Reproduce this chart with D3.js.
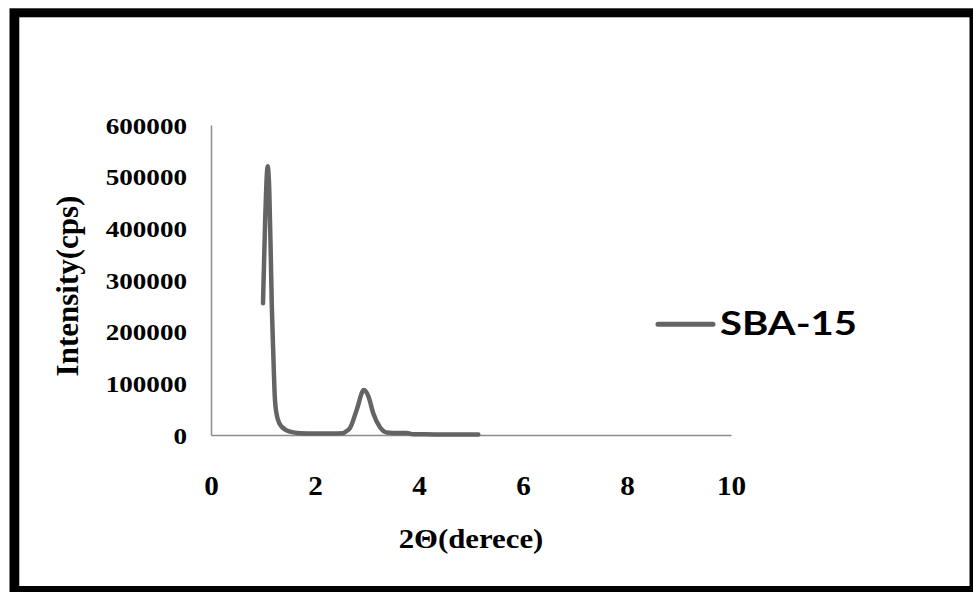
<!DOCTYPE html>
<html>
<head>
<meta charset="utf-8">
<script src="https://cdn.jsdelivr.net/npm/d3@7"></script>
<style>
  html, body { margin: 0; padding: 0; background: #fff; }
  svg { display: block; }
</style>
</head>
<body>
<svg id="chart" width="973" height="592"></svg>
<script>
// SBA-15 low-angle XRD pattern
const twoTheta  = [1.00, 1.04, 1.09, 1.12, 1.15, 1.17, 1.20, 1.23, 1.28, 1.36, 1.52, 1.71, 2.00, 2.30, 2.54, 2.61, 2.67, 2.80, 2.94, 3.03, 3.12, 3.25, 3.38, 3.60, 3.76, 3.89, 4.30, 4.80, 5.14];
const intensity = [255000, 410000, 520000, 474000, 345000, 248000, 151000, 68000, 32000, 16000, 6400, 3500, 3000, 3000, 3500, 7700, 13000, 48000, 87000, 74000, 42000, 15000, 5000, 4000, 4000, 1500, 1200, 1000, 1000];
const xTicks = [0, 2, 4, 6, 8, 10];
const yTicks = [0, 100000, 200000, 300000, 400000, 500000, 600000];
const seriesName = "SBA-15";
const xTitle = "2\u0398(derece)";
const yTitle = "Intensity(cps)";

const svg = d3.select("#chart");
const W = 973, H = 592;

// frame
svg.append("rect").attr("x", 9.5).attr("y", 8.3).attr("width", W - 9.5).attr("height", H - 8.3).attr("fill", "#000");
svg.append("rect").attr("x", 19.3).attr("y", 17.3).attr("width", 969.5 - 19.3).attr("height", 586 - 17.3).attr("fill", "#fff");

const x = d3.scaleLinear().domain([0, 10]).range([211, 731]);
const y = d3.scaleLinear().domain([0, 600000]).range([435, 125]);

const serif = "'Liberation Serif', 'Times New Roman', serif";
const axisColor = "#8c8c8c";

// y axis
const ySx = 1.18;
const gy = svg.append("g").attr("transform", `translate(${x(0)},0)`)
  .call(d3.axisLeft(y).tickValues(yTicks).tickSize(0).tickFormat(d => String(d)));
gy.select(".domain").attr("stroke", axisColor).attr("stroke-width", 1.5);
gy.selectAll(".tick text")
  .attr("font-family", serif).attr("font-weight", "bold").attr("font-size", 23)
  .attr("fill", "#000")
  .attr("x", -24 / ySx).attr("dy", "0.35em")
  .attr("transform", `scale(${ySx},1)`);

// x axis
const xSx = 1.08;
const gx = svg.append("g").attr("transform", `translate(0,${y(0)})`)
  .call(d3.axisBottom(x).tickValues(xTicks).tickSize(0).tickFormat(d => String(d)));
gx.select(".domain").attr("stroke", axisColor).attr("stroke-width", 1.5);
gx.selectAll(".tick").each(function () {
  const t = d3.select(this);
  t.select("text")
    .attr("font-family", serif).attr("font-weight", "bold").attr("font-size", 27)
    .attr("fill", "#000")
    .attr("y", 60).attr("dy", 0)
    .attr("transform", `scale(${xSx},1)`);
});

// axis titles
svg.append("text")
  .attr("transform", `translate(${(x(0) + x(10)) / 2},548) scale(1.1,1)`)
  .attr("text-anchor", "middle")
  .attr("font-family", serif).attr("font-weight", "bold").attr("font-size", 28)
  .text(xTitle);

svg.append("text")
  .attr("transform", `translate(78,${(y(0) + y(600000)) / 2 + 6}) rotate(-90)`)
  .attr("text-anchor", "middle")
  .attr("font-family", serif).attr("font-weight", "bold").attr("font-size", 31)
  .text(yTitle);

// series line
const data = twoTheta.map((t, i) => ({ t, v: intensity[i] }));
const lineColor = "#646464";
svg.append("path")
  .datum(data)
  .attr("fill", "none")
  .attr("stroke", lineColor)
  .attr("stroke-width", 4.5)
  .attr("stroke-linejoin", "round")
  .attr("stroke-linecap", "round")
  .attr("d", d3.line().x(d => x(d.t)).y(d => y(d.v)).curve(d3.curveMonotoneX));

// legend
const lg = svg.append("g");
lg.append("line")
  .attr("x1", 658).attr("x2", 713).attr("y1", 324.3).attr("y2", 324.3)
  .attr("stroke", lineColor).attr("stroke-width", 5).attr("stroke-linecap", "round");
lg.append("text")
  .attr("x", 720).attr("y", 335)
  .attr("font-family", "Lato, 'Open Sans', sans-serif").attr("font-weight", "bold").attr("font-size", 32)
  .attr("textLength", 137).attr("lengthAdjust", "spacingAndGlyphs")
  .attr("fill", "#000")
  .text(seriesName);
</script>
</body>
</html>
